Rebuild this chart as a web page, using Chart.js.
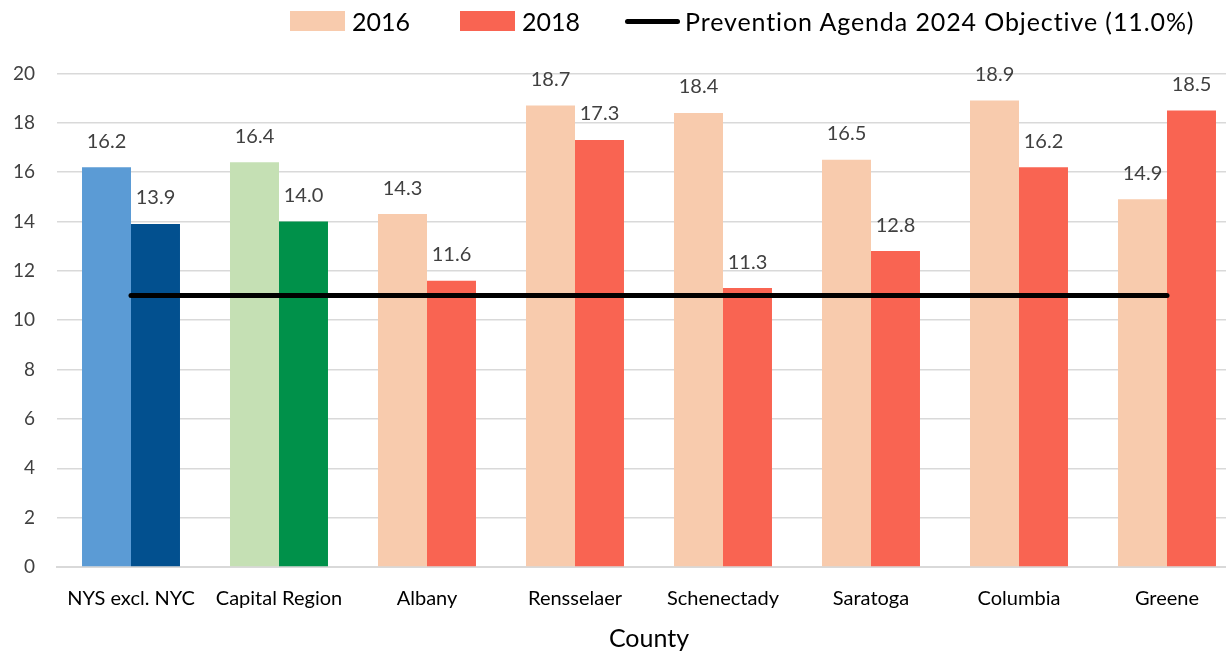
<!DOCTYPE html>
<html>
<head>
<meta charset="utf-8">
<script src="https://cdn.jsdelivr.net/npm/chart.js@4.4.1/dist/chart.umd.min.js"></script>
<style>
    html, body { margin: 0; padding: 0; background: #fff; width: 1226px; height: 654px; overflow: hidden; }
    body { position: relative; font-family: Lato, sans-serif; }
    #legend { position: absolute; left: 290px; top: 0; height: 42px; display: flex; align-items: center; font-size: 25px; color: #000; z-index: 1; }
    #legend .item { display: flex; align-items: center; white-space: nowrap; }
    #legend .swatch { width: 55px; height: 20px; margin-right: 7px; }
    #legend .line { width: 55px; height: 5px; border-radius: 3px; background: #000; margin-right: 5px; }
    #legend .long { letter-spacing: 0.9px; }
    #chart-box { position: absolute; left: 0; top: 40px; width: 1241px; height: 614px; }
</style>
</head>
<body>
<div id="legend"></div>
<div id="chart-box"><canvas id="chart"></canvas></div>
<script>
    const counties = ['NYS excl. NYC', 'Capital Region', 'Albany', 'Rensselaer', 'Schenectady', 'Saratoga', 'Columbia', 'Greene'];
    const values2016 = [16.2, 16.4, 14.3, 18.7, 18.4, 16.5, 18.9, 14.9];
    const values2018 = [13.9, 14.0, 11.6, 17.3, 11.3, 12.8, 16.2, 18.5];
    const objective = [11.0, 11.0, 11.0, 11.0, 11.0, 11.0, 11.0, 11.0];
    const colors2016 = ['#5B9BD5', '#C5E0B4', '#F8CBAD', '#F8CBAD', '#F8CBAD', '#F8CBAD', '#F8CBAD', '#F8CBAD'];
    const colors2018 = ['#02508F', '#00914A', '#F96452', '#F96452', '#F96452', '#F96452', '#F96452', '#F96452'];
    const objectiveLabel = 'Prevention Agenda 2024 Objective (11.0%)';

    // legend, built from the same series info
    const legendItems = [
        { text: '2016', color: colors2016[2], kind: 'swatch', gap: 50 },
        { text: '2018', color: colors2018[2], kind: 'swatch', gap: 45 },
        { text: objectiveLabel, color: '#000', kind: 'line', gap: 0 }
    ];
    const legendEl = document.getElementById('legend');
    legendItems.forEach(item => {
        const el = document.createElement('div');
        el.className = 'item';
        el.style.marginRight = item.gap + 'px';
        const mark = document.createElement('span');
        mark.className = item.kind;
        mark.style.background = item.color;
        const label = document.createElement('span');
        label.textContent = item.text;
        if (item.kind === 'line') label.className = 'long';
        el.appendChild(mark);
        el.appendChild(label);
        legendEl.appendChild(el);
    });

    const barLabels = {
        id: 'barLabels',
        afterDatasetsDraw(chart) {
            const ctx = chart.ctx;
            ctx.save();
            ctx.font = '20px Lato';
            ctx.fillStyle = '#404040';
            ctx.textAlign = 'center';
            ctx.textBaseline = 'middle';
            chart.data.datasets.forEach((ds, i) => {
                if (ds.type === 'line') return;
                chart.getDatasetMeta(i).data.forEach((bar, j) => {
                    ctx.fillText(ds.data[j].toFixed(1), bar.x, bar.y - 26);
                });
            });
            ctx.restore();
        }
    };

    new Chart(document.getElementById('chart'), {
        type: 'bar',
        data: {
            labels: counties,
            datasets: [
                {
                    type: 'line',
                    label: objectiveLabel,
                    data: objective,
                    borderColor: '#000',
                    borderWidth: 5,
                    borderCapStyle: 'round',
                    pointRadius: 0,
                    fill: false,
                    order: 0
                },
                {
                    label: '2016',
                    data: values2016,
                    backgroundColor: colors2016,
                    categoryPercentage: 0.662,
                    barPercentage: 1.0,
                    order: 1
                },
                {
                    label: '2018',
                    data: values2018,
                    backgroundColor: colors2018,
                    categoryPercentage: 0.662,
                    barPercentage: 1.0,
                    order: 1
                }
            ]
        },
        options: {
            responsive: true,
            maintainAspectRatio: false,
            animation: false,
            layout: { padding: { top: 23, left: 0, right: 0, bottom: 0 } },
            plugins: {
                legend: { display: false },
                tooltip: { enabled: false }
            },
            scales: {
                x: {
                    grid: { display: false, drawTicks: false },
                    border: { color: '#D9D9D9', width: 2 },
                    ticks: { color: '#000', font: { family: 'Lato', size: 20 }, padding: 20, maxRotation: 0 },
                    title: {
                        display: true,
                        text: 'County',
                        color: '#000',
                        font: { family: 'Lato', size: 25 },
                        padding: { top: -7, bottom: 0 }
                    }
                },
                y: {
                    min: 0,
                    max: 20,
                    afterFit: (scale) => { scale.width = 57; },
                    grid: { color: '#D9D9D9', lineWidth: 1.5, drawTicks: false },
                    border: { display: false },
                    ticks: { stepSize: 2, color: '#404040', font: { family: 'Lato', size: 19 }, padding: 22 }
                }
            }
        },
        plugins: [barLabels]
    });
</script>
</body>
</html>
